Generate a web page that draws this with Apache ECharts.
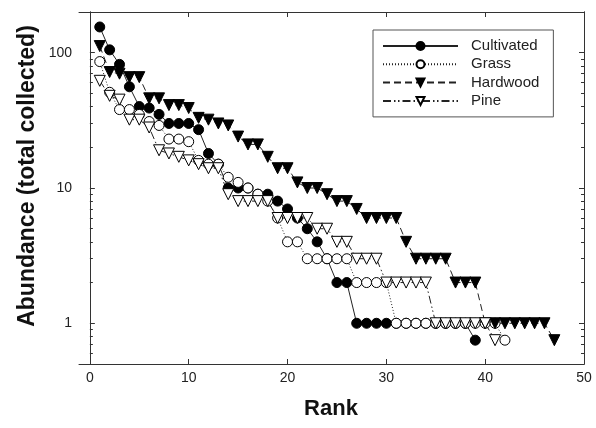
<!DOCTYPE html>
<html>
<head>
<meta charset="utf-8">
<script src="https://cdn.jsdelivr.net/npm/echarts@6/dist/echarts.min.js"></script>
<style>
  html, body { margin: 0; padding: 0; background: #fff; }
  #chart { width: 596px; height: 428px; }
</style>
</head>
<body>
<div id="chart"></div>
<script>
// abundance by rank (rank = index + 1)
const cultivated = [155, 105, 82, 56, 40, 39, 35, 30, 30, 30, 27, 18, 15, 10, 10, 10, 9, 9, 8, 7,
  6, 5, 4, 3, 2, 2, 1, 1, 1, 1, 1, 1, 1, 1, 1, 1, 1, 1, 0.75];
const grass = [86, 51, 38, 38, 35, 31, 29, 23, 23, 22, 16, 15, 15, 12, 11, 10, 9, 8, 6, 4,
  4, 3, 3, 3, 3, 3, 2, 2, 2, 2, 1, 1, 1, 1, 1, 1, 1, 1, 1, 1, 1, 0.75];
const hardwood = [112, 72, 70, 66, 66, 46, 46, 41, 41, 39, 33, 32, 30, 29, 24, 21, 21, 17, 14, 14,
  11, 10, 10, 9, 8, 8, 7, 6, 6, 6, 6, 4, 3, 3, 3, 3, 2, 2, 2, 1, 1, 1, 1, 1, 1, 1, 0.75];
const pine = [62, 48, 45, 32, 32, 28, 19, 18, 17, 16, 15, 14, 14, 9, 8, 8, 8, 8, 6, 6,
  6, 6, 5, 5, 4, 4, 3, 3, 3, 2, 2, 2, 2, 2, 1, 1, 1, 1, 1, 1, 0.75];

const xTicks = [0, 10, 20, 30, 40, 50];
const yMajor = [1, 10, 100];
const yMinor = [0.6, 0.7, 0.8, 0.9, 2, 3, 4, 5, 6, 7, 8, 9, 20, 30, 40, 50, 60, 70, 80, 90, 200];

const toPoints = arr => arr.map((v, i) => [i + 1, v]);

const font = "'Liberation Sans', Arial, sans-serif";
const axisColor = '#333';

const chart = echarts.init(document.getElementById('chart'));

function yAxisDef(position, ticks, len, showLabel) {
    return {
        type: 'log',
        logBase: 10,
        min: 0.5,
        max: 200,
        position: position,
        axisLine: { show: true, lineStyle: { color: axisColor, width: 1 } },
        axisTick: { show: true, inside: true, length: len, customValues: ticks, lineStyle: { color: axisColor } },
        axisLabel: {
            show: showLabel,
            customValues: yMajor,
            color: '#222',
            fontFamily: font,
            fontSize: 14,
            margin: 7
        },
        splitLine: { show: false }
    };
}

function xAxisDef(position, showLabel) {
    return {
        type: 'value',
        min: -1.1,
        max: 50,
        position: position,
        axisLine: { show: true, onZero: false, lineStyle: { color: axisColor, width: 1 } },
        axisTick: { show: true, inside: true, length: 5, customValues: xTicks, lineStyle: { color: axisColor } },
        axisLabel: {
            show: showLabel,
            customValues: xTicks,
            color: '#222',
            fontFamily: font,
            fontSize: 14,
            margin: 7
        },
        splitLine: { show: false }
    };
}

const option = {
    animation: false,
    backgroundColor: '#fff',
    grid: { left: 79, right: 12, top: 12, bottom: 64 },
    xAxis: [xAxisDef('bottom', true), xAxisDef('top', false)],
    yAxis: [
        yAxisDef('left', yMajor, 5, true),
        yAxisDef('left', yMinor, 3, false),
        yAxisDef('right', yMajor, 5, false),
        yAxisDef('right', yMinor, 3, false)
    ],
    legend: {
        orient: 'vertical',
        left: 373,
        top: 30,
        itemWidth: 75,
        itemHeight: 10,
        itemGap: 2.3,
        padding: [8, 14, 8, 9],
        borderColor: '#555',
        borderWidth: 1,
        textStyle: { fontFamily: font, fontSize: 15, lineHeight: 16, color: '#222', padding: [0, 0, 0, 8] },
        data: ['Cultivated', 'Grass', 'Hardwood', 'Pine']
    },
    series: [
        {
            name: 'Cultivated',
            type: 'line',
            data: toPoints(cultivated),
            symbol: 'circle',
            symbolSize: 10,
            lineStyle: { color: '#222', width: 1, type: 'solid' },
            itemStyle: { color: '#000', borderColor: '#000', borderWidth: 1 }
        },
        {
            name: 'Grass',
            type: 'line',
            data: toPoints(grass),
            symbol: 'circle',
            symbolSize: 10,
            lineStyle: { color: '#222', width: 1, type: [1, 2] },
            itemStyle: { color: '#fff', borderColor: '#000', borderWidth: 1 }
        },
        {
            name: 'Hardwood',
            type: 'line',
            data: toPoints(hardwood),
            symbol: 'triangle',
            symbolRotate: 180,
            symbolSize: 11,
            lineStyle: { color: '#222', width: 1, type: [7, 4] },
            itemStyle: { color: '#000', borderColor: '#000', borderWidth: 1 }
        },
        {
            name: 'Pine',
            type: 'line',
            data: toPoints(pine),
            symbol: 'triangle',
            symbolRotate: 180,
            symbolSize: 11,
            lineStyle: { color: '#222', width: 1, type: [8, 3, 1.5, 2.5, 1.5, 3] },
            itemStyle: { color: '#fff', borderColor: '#000', borderWidth: 1 }
        }
    ],
    graphic: [
        {
            type: 'text',
            x: 331,
            y: 409,
            style: {
                text: 'Rank',
                font: 'bold 22px ' + font,
                fill: '#111',
                align: 'center',
                verticalAlign: 'middle'
            }
        },
        {
            type: 'text',
            x: 28,
            y: 176,
            rotation: Math.PI / 2,
            style: {
                text: 'Abundance (total collected)',
                font: 'bold 23px ' + font,
                fill: '#111',
                align: 'center',
                verticalAlign: 'middle'
            }
        }
    ]
};

chart.setOption(option);
</script>
</body>
</html>
